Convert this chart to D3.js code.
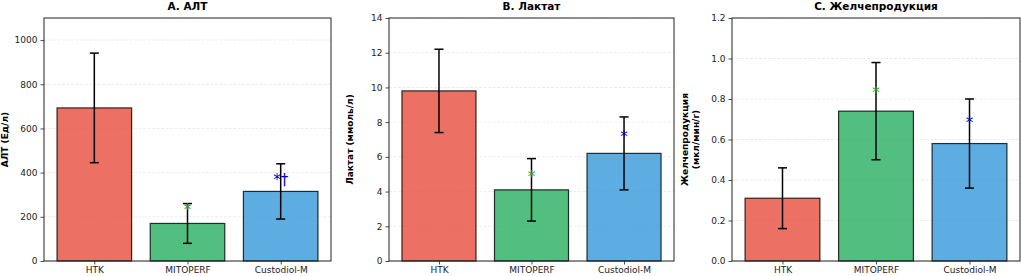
<!DOCTYPE html>
<html lang="ru">
<head>
<meta charset="UTF-8">
<title>bar-panels</title>
<script src="https://cdn.jsdelivr.net/npm/d3@7"></script>
<style>
  body { margin: 0; background: #fff; }
  svg { display: block; font-family: "DejaVu Sans", sans-serif; }
</style>
</head>
<body>
<script>
const groups = ['HTK', 'MITOPERF', 'Custodiol-M'];
const colors = ['#e74c3c', '#27ae60', '#3498db'];
const markColors = ['#2ca02c', '#0000cc'];

const altMean = [693, 170, 315];
const altSd = [248, 90, 125];
const lacMean = [9.8, 4.1, 6.2];
const lacSd = [2.4, 1.8, 2.1];
const bileMean = [0.31, 0.74, 0.58];
const bileSd = [0.15, 0.24, 0.22];

// significance marks: [group index, y value, text]
const altMarks = [[1, 250, '*'], [2, 385, '*†']];
const lacMarks = [[1, 5.07, '*'], [2, 7.37, '*']];
const bileMarks = [[1, 0.85, '*'], [2, 0.70, '*']];

const altTicks = [0, 200, 400, 600, 800, 1000];
const lacTicks = [0, 2, 4, 6, 8, 10, 12, 14];
const bileTicks = [0, 0.2, 0.4, 0.6, 0.8, 1.0, 1.2];

const W = 1021, H = 276;
const svg = d3.select('body').append('svg').attr('width', W).attr('height', H);

const panels = [
  { title: 'A. АЛТ', ylabel: ['АЛТ (Ед/л)'], mean: altMean, sd: altSd, marks: altMarks,
    ticks: altTicks, ymax: 1100, fmt: d3.format('d'), left: 44, right: 331 },
  { title: 'B. Лактат', ylabel: ['Лактат (ммоль/л)'], mean: lacMean, sd: lacSd, marks: lacMarks,
    ticks: lacTicks, ymax: 14, fmt: d3.format('d'), left: 389, right: 674 },
  { title: 'C. Желчепродукция', ylabel: ['Желчепродукция', '(мкл/мин/г)'], mean: bileMean, sd: bileSd,
    marks: bileMarks, ticks: bileTicks, ymax: 1.2, fmt: d3.format('.1f'), left: 732, right: 1020 }
];

const plotTop = 18, plotBottom = 261;

panels.forEach(function (p) {
  const x = d3.scaleLinear().domain([-0.54, 2.54]).range([p.left, p.right]);
  const y = d3.scaleLinear().domain([0, p.ymax]).range([plotBottom, plotTop]);
  const g = svg.append('g');
  const bw = x(0.8) - x(0);

  // grid
  g.selectAll('line.grid').data(p.ticks).enter().append('line')
    .attr('x1', p.left).attr('x2', p.right)
    .attr('y1', d => y(d)).attr('y2', d => y(d))
    .attr('stroke', '#b0b0b0').attr('stroke-opacity', 0.3)
    .attr('stroke-width', 0.8).attr('stroke-dasharray', '3,1.5');

  // bars
  g.selectAll('rect.bar').data(p.mean).enter().append('rect')
    .attr('x', (d, i) => x(i) - bw / 2)
    .attr('width', bw)
    .attr('y', d => y(d))
    .attr('height', d => plotBottom - y(d))
    .attr('fill', (d, i) => colors[i]).attr('fill-opacity', 0.8)
    .attr('stroke', '#000').attr('stroke-opacity', 0.8).attr('stroke-width', 1.2);

  // error bars
  const eb = g.selectAll('g.err').data(p.mean).enter().append('g');
  eb.append('line')
    .attr('x1', (d, i) => x(i)).attr('x2', (d, i) => x(i))
    .attr('y1', (d, i) => y(d - p.sd[i])).attr('y2', (d, i) => y(d + p.sd[i]));
  eb.append('line')
    .attr('x1', (d, i) => x(i) - 4.5).attr('x2', (d, i) => x(i) + 4.5)
    .attr('y1', (d, i) => y(d + p.sd[i])).attr('y2', (d, i) => y(d + p.sd[i]));
  eb.append('line')
    .attr('x1', (d, i) => x(i) - 4.5).attr('x2', (d, i) => x(i) + 4.5)
    .attr('y1', (d, i) => y(d - p.sd[i])).attr('y2', (d, i) => y(d - p.sd[i]));
  eb.selectAll('line').attr('stroke', '#000').attr('stroke-width', 1.5);

  // significance marks
  g.selectAll('text.mark').data(p.marks).enter().append('text')
    .attr('x', d => x(d[0]))
    .attr('y', d => y(d[1]) + 9)
    .attr('text-anchor', 'middle')
    .attr('font-size', 15)
    .attr('fill', d => markColors[d[0] - 1])
    .text(d => d[2]);

  // axes
  const yAxis = d3.axisLeft(y).tickValues(p.ticks).tickFormat(p.fmt).tickSize(3.5).tickPadding(3);
  const ya = g.append('g').attr('transform', 'translate(' + p.left + ',0)').call(yAxis);
  const xAxis = d3.axisBottom(x).tickValues([0, 1, 2]).tickFormat(i => groups[i]).tickSize(3.5).tickPadding(2.5);
  const xa = g.append('g').attr('transform', 'translate(0,' + plotBottom + ')').call(xAxis);
  [ya, xa].forEach(function (a) {
    a.select('.domain').remove();
    a.selectAll('text').attr('font-size', 9).attr('fill', '#222').attr('font-family', '"DejaVu Sans", sans-serif');
    a.selectAll('line').attr('stroke', '#222').attr('stroke-width', 0.8);
  });

  // frame
  g.append('rect')
    .attr('x', p.left).attr('y', plotTop)
    .attr('width', p.right - p.left).attr('height', plotBottom - plotTop)
    .attr('fill', 'none').attr('stroke', '#222').attr('stroke-width', 1);

  // title
  g.append('text')
    .attr('x', (p.left + p.right) / 2).attr('y', 10)
    .attr('text-anchor', 'middle').attr('font-size', 10.5).attr('font-weight', 'bold')
    .text(p.title);

  // y label
  const n = p.ylabel.length;
  p.ylabel.forEach(function (t, k) {
    const lx = n === 1 ? p.left - 36 : p.left - 44 + k * 11;
    g.append('text')
      .attr('transform', 'translate(' + lx + ',' + (plotTop + plotBottom) / 2 + ') rotate(-90)')
      .attr('text-anchor', 'middle').attr('font-size', 9).attr('font-weight', 'bold')
      .text(t);
  });
});
</script>
</body>
</html>
